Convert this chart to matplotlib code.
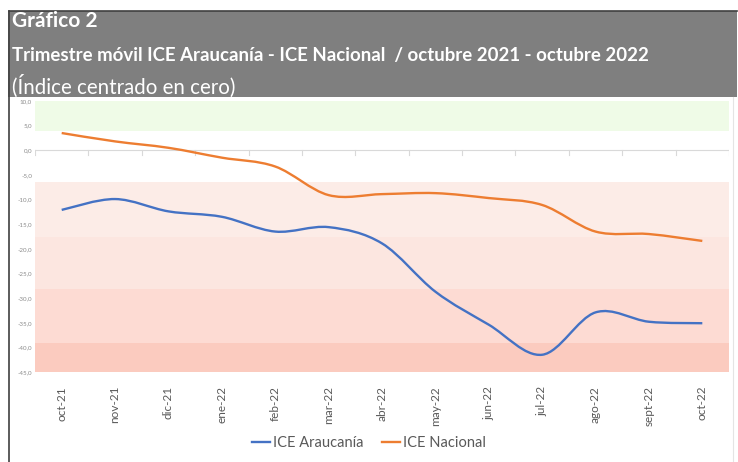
import numpy as np
import matplotlib.pyplot as plt
from matplotlib.path import Path
from matplotlib.patches import PathPatch, Rectangle
from matplotlib.lines import Line2D

# Data
months = ['oct-21', 'nov-21', 'dic-21', 'ene-22', 'feb-22', 'mar-22', 'abr-22',
          'may-22', 'jun-22', 'jul-22', 'ago-22', 'sept-22', 'oct-22']
ice_araucania = [-12.1, -9.9, -12.4, -13.5, -16.5, -15.6, -18.9,
                 -28.7, -35.4, -41.5, -32.9, -34.8, -35.1]
ice_nacional = [3.5, 1.8, 0.5, -1.5, -3.3, -9.1, -8.9,
                -8.7, -9.7, -11.1, -16.5, -17.0, -18.4]

# background bands (low, high, colour)
band_lo = [4.0, -17.5, -28.2, -39.2, -45.0]
band_hi = [10.0, -6.5, -17.5, -28.2, -39.2]
band_col = ['#EFFBE7', '#FCECE7', '#FCE6E0', '#FDDBD3', '#FBCBBF']

y_ticks = np.arange(10, -46, -5)
blue = '#4472C4'
orange = '#ED7D31'
W, H = 738, 462


def smooth_path(xs, ys):
    # Excel-like smoothed line: Catmull-Rom segments as cubic Beziers
    pts = np.column_stack([xs, ys]).astype(float)
    n = len(pts)
    verts = [pts[0]]
    codes = [Path.MOVETO]
    for i in range(n - 1):
        p0 = pts[max(i - 1, 0)]
        p1 = pts[i]
        p2 = pts[i + 1]
        p3 = pts[min(i + 2, n - 1)]
        c1 = p1 + (p2 - p0) / 6.0
        c2 = p2 - (p3 - p1) / 6.0
        verts += [c1, c2, p2]
        codes += [Path.CURVE4] * 3
    return Path(verts, codes)


fig = plt.figure(figsize=(W / 100, H / 100), dpi=100)

# title bar
fig.patches.append(Rectangle((8 / W, 1 - 97 / H), 729 / W, 86 / H,
                             transform=fig.transFigure, facecolor='#7F7F7F',
                             edgecolor='none', zorder=0))
fig.lines.append(Line2D([8.5 / W, 8.5 / W], [0, 1 - 11 / H], transform=fig.transFigure,
                        color='#404040', lw=1.2))
fig.lines.append(Line2D([8.5 / W, 737 / W], [1 - 11 / H, 1 - 11 / H], transform=fig.transFigure,
                        color='#404040', lw=1.2))
fig.lines.append(Line2D([733 / W, 733 / W], [0, 1 - 97 / H], transform=fig.transFigure,
                        color='#E4E4E4', lw=0.8))

font = 'Lato'
fig.text(12 / W, 1 - 21 / H, 'Gráfico 2', color='white', fontsize=15,
         fontweight='bold', family=font, va='center', ha='left')
fig.text(12 / W, 1 - 55 / H,
         'Trimestre móvil ICE Araucanía - ICE Nacional  / octubre 2021 - octubre 2022',
         color='white', fontsize=13.4, fontweight='bold', family=font, va='center', ha='left')
fig.text(12 / W, 1 - 86 / H, '(Índice centrado en cero)', color='white', fontsize=14.8,
         family=font, va='center', ha='left')

ax = fig.add_axes([35 / W, 1 - 372 / H, 694 / W, 271 / H])
x = np.arange(len(months))
ax.set_xlim(-0.5, len(months) - 0.5)
ax.set_ylim(-45, 10)

for lo, hi, c in zip(band_lo, band_hi, band_col):
    ax.axhspan(lo, hi, color=c, lw=0, zorder=0)

ax.axhline(0, color='#D9D9D9', lw=0.8, zorder=1)
for b in np.arange(-0.5, len(months) + 0.5, 1.0):
    ax.plot([b, b], [0, -0.9], color='#D9D9D9', lw=0.8, zorder=1)

ax.add_patch(PathPatch(smooth_path(x, ice_araucania), facecolor='none',
                       edgecolor=blue, lw=1.7, zorder=3))
ax.add_patch(PathPatch(smooth_path(x, ice_nacional), facecolor='none',
                       edgecolor=orange, lw=1.7, zorder=3))

ax.set_xticks(x)
ax.set_xticklabels(months, rotation=90, fontsize=8.5, color='#595959', family=font)
ax.set_yticks(y_ticks)
ax.set_yticklabels([f'{v:.1f}'.replace('.', ',') for v in y_ticks],
                   fontsize=4.5, color='#8C8C8C', family=font)
ax.tick_params(length=0, pad=10, axis='x')
ax.tick_params(length=0, pad=2, axis='y')
for s in ax.spines.values():
    s.set_visible(False)

handles = [Line2D([], [], color=blue, lw=1.7), Line2D([], [], color=orange, lw=1.7)]
fig.legend(handles, ['ICE Araucanía', 'ICE Nacional'], loc='center',
           bbox_to_anchor=(0.5, 1 - 443 / H), ncol=2, frameon=False,
           prop={'family': font, 'size': 10.5}, labelcolor='#595959',
           handlelength=1.2, handletextpad=0.2, columnspacing=1.3)

fig.savefig('out.png', dpi=100)
